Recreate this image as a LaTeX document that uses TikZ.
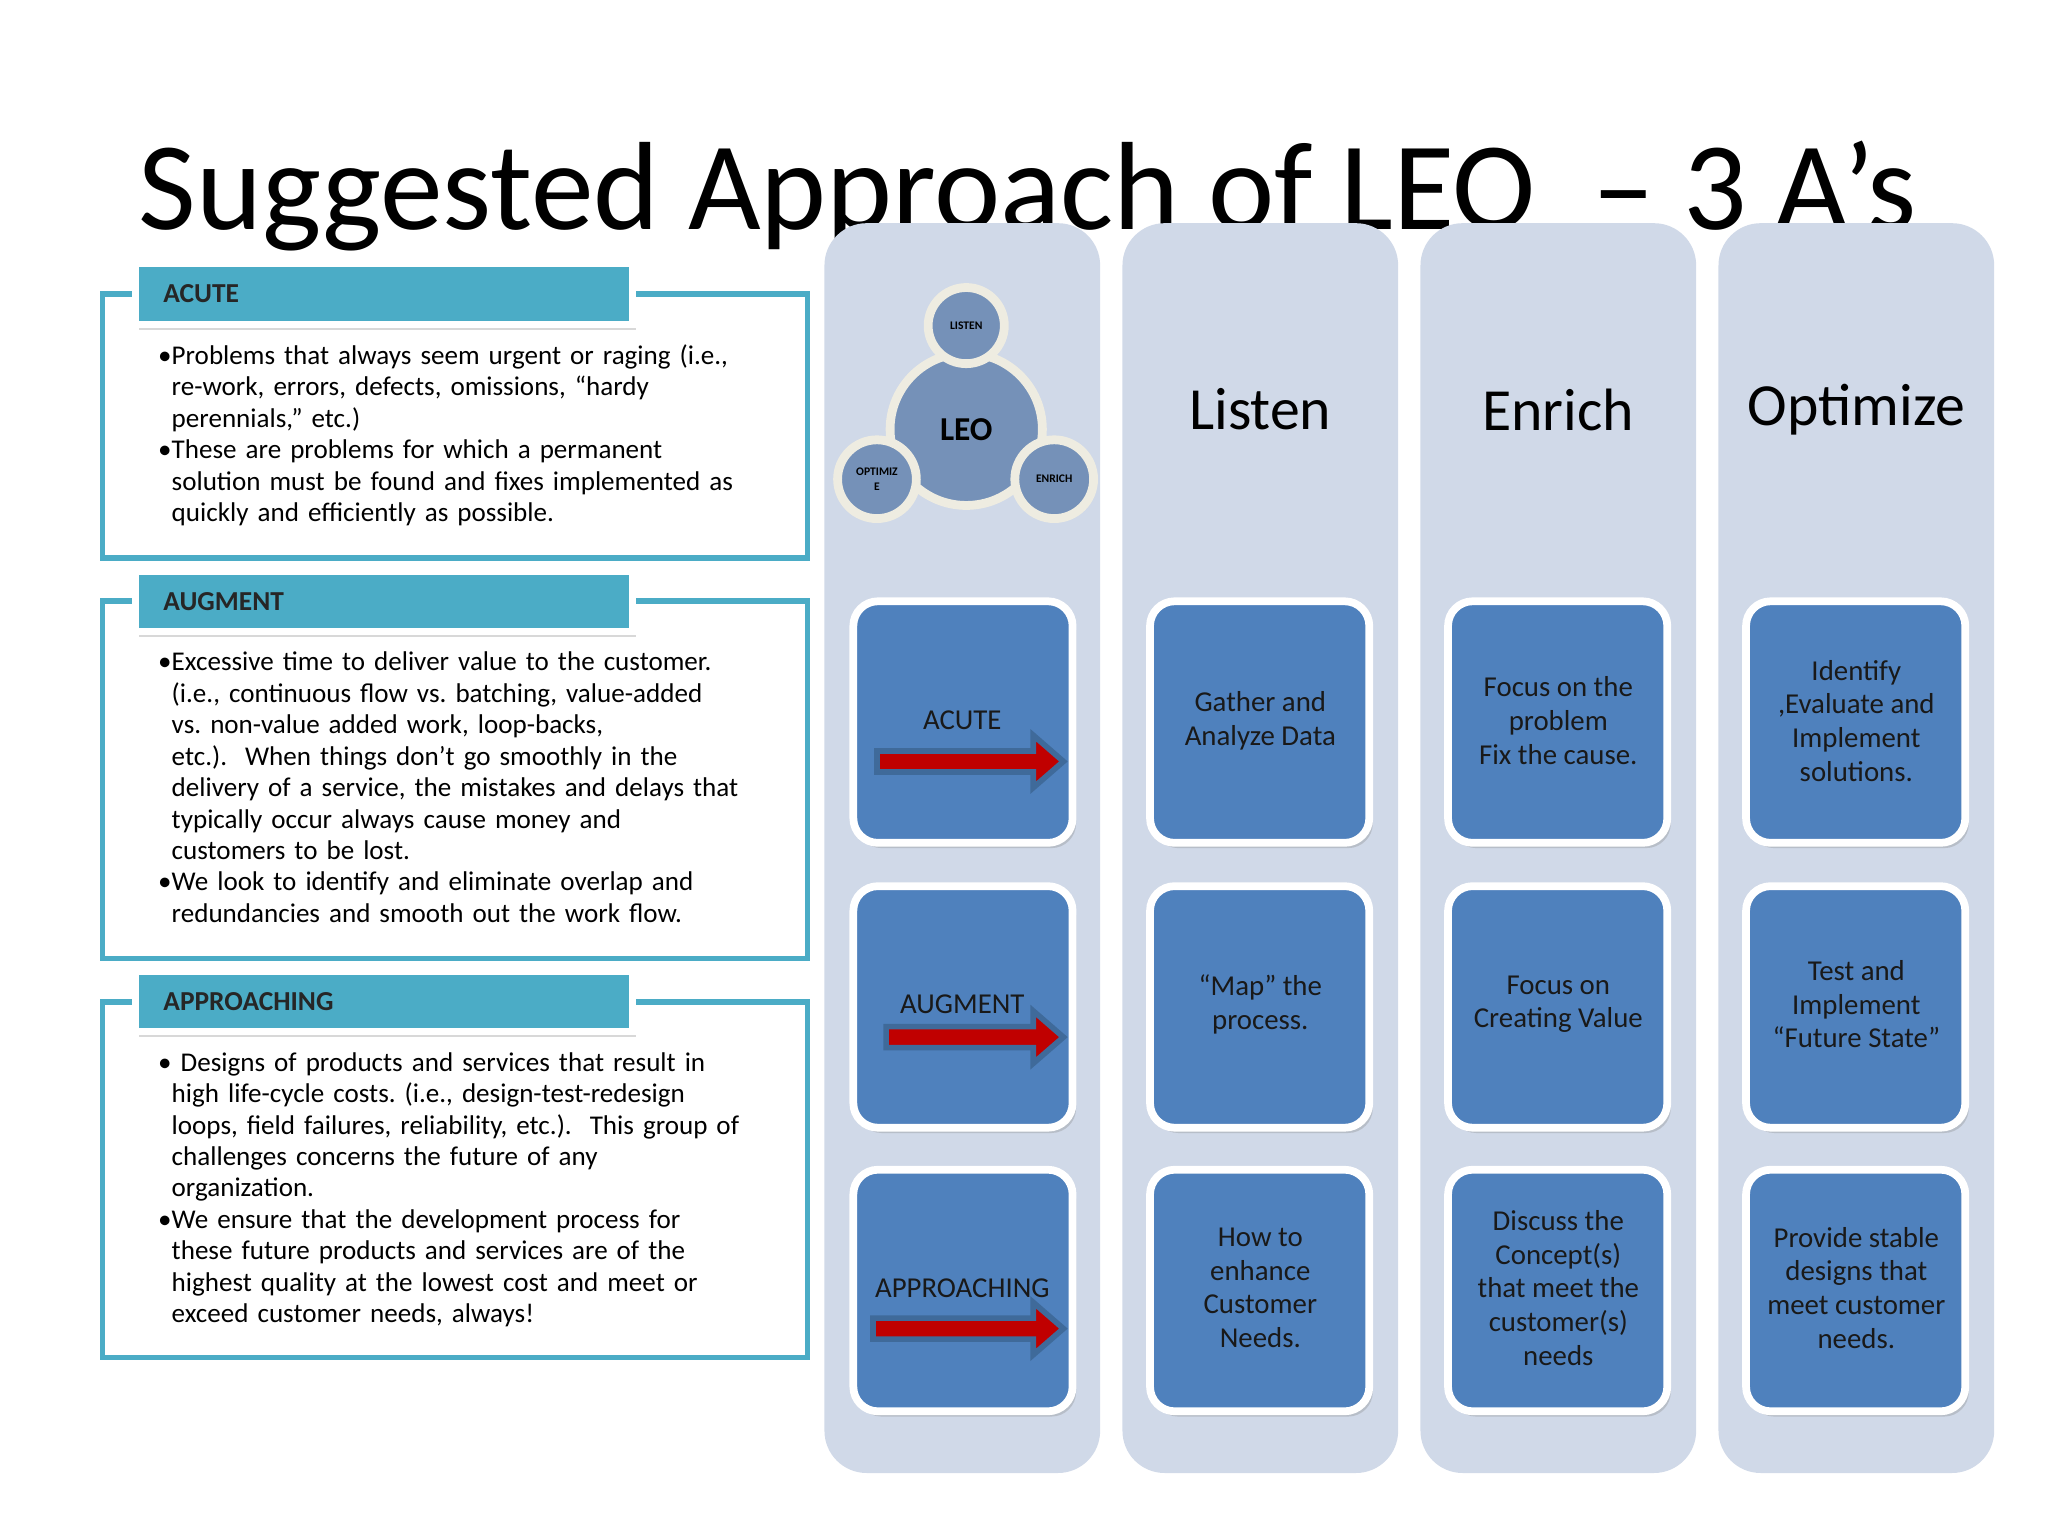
\documentclass[tikz,border=0pt]{standalone}
\usepackage{fontspec}
\setmainfont{Carlito}
\usetikzlibrary{shadows}
\definecolor{colbg}{HTML}{D0D9E8}
\definecolor{boxblue}{HTML}{4F81BD}
\definecolor{teal}{HTML}{4BACC6}
\definecolor{cream}{HTML}{EEECE1}
\definecolor{circ}{HTML}{7591B8}
\definecolor{arrowedge}{HTML}{3F6A9A}
\definecolor{arrowred}{HTML}{C00000}
\newlength{\bulw}
\newcommand{\bitem}[1]{\settowidth{\bulw}{•}\hangindent=\bulw\hangafter=1 #1\par}
\tikzset{
  x=0.013128cm, y=-0.013128cm,
  column/.style={fill=colbg, rounded corners=12pt, draw=none},
  bluebox/.style={fill=boxblue, draw=white, line width=2.2pt, rounded corners=7pt, drop shadow={shadow xshift=1pt, shadow yshift=-1.5pt, opacity=0.3}},
  boxtext/.style={align=center, font=\fontsize{8.2}{9.6}\selectfont, text=black!90},
  header/.style={font=\fontsize{17}{20}\selectfont},
  panel/.style={draw=teal, line width=1.6pt, fill=white},
  tab/.style={fill=teal, draw=white, line width=2pt, drop shadow={shadow xshift=1pt, shadow yshift=-1.5pt, opacity=0.3}},
  tabtext/.style={anchor=west, font=\bfseries\fontsize{7.8}{9}\selectfont, text=black!85},
  bodytext/.style={anchor=north west, align=left, text width=6.6cm, font=\fontsize{7.7}{8.95}\selectfont, inner sep=0pt},
  ring/.style={fill=circ, draw=cream, line width=2.5pt},
  redarrow/.style={fill=arrowred, draw=arrowedge, line width=1.6pt, line join=miter},
}
\begin{document}
\begin{tikzpicture}
\useasboundingbox (0,0) rectangle (1560,1170);
\fill[white] (0,0) rectangle (1560,1170);
% title
\node[anchor=base west, inner sep=0pt, font=\fontsize{35.7}{38}\selectfont] (title) at (105,175) {Suggested Approach of LEO\ \ – 3 A’s};
% columns
\draw[column] (628,170) rectangle (838,1122);
\draw[column] (855,170) rectangle (1065,1122);
\draw[column] (1082,170) rectangle (1292,1122);
\draw[column] (1309,170) rectangle (1519,1122);
\node[header] (hL) at (960,312) {Listen};
\node[header] (hE) at (1187,312) {Enrich};
\node[header] (hO) at (1414,312) {Optimize};
% LEO circles
\draw[ring] (736,327) circle (58);
\draw[ring] (736,248) circle (29);
\draw[ring] (668,365) circle (30);
\draw[ring] (803,365) circle (30);
\node[font=\bfseries\fontsize{9.5}{10}\selectfont] (leo) at (736,327) {LEO};
\node[font=\bfseries\fontsize{3.3}{4}\selectfont] (cl) at (736,248) {LISTEN};
\node[font=\bfseries\fontsize{3.3}{4}\selectfont, align=center] (co) at (668,365) {OPTIMIZ\\E};
\node[font=\bfseries\fontsize{3.3}{4}\selectfont] (ce) at (803,365) {ENRICH};
% boxes
\foreach \x in {647,873,1100,1327}{
  \foreach \y in {455,672,888}{
    \draw[bluebox] (\x+3,\y+3) rectangle (\x+170,\y+187);
  }
}
\node[boxtext] (a1) at (733,549) {ACUTE};
\node[boxtext] (a2) at (733,765) {AUGMENT};
\node[boxtext] (a3) at (733,981) {APPROACHING};
\draw[redarrow] (668,572) -- (787,572) -- (787,560) -- (810,580) -- (787,600) -- (787,588) -- (668,588) -- cycle;
\draw[redarrow] (675,782) -- (787,782) -- (787,770) -- (810,790) -- (787,810) -- (787,798) -- (675,798) -- cycle;
\draw[redarrow] (665,1004) -- (787,1004) -- (787,992) -- (810,1012) -- (787,1032) -- (787,1020) -- (665,1020) -- cycle;

\node[boxtext] (g1) at (960,549) {Gather and\\Analyze Data};
\node[boxtext] (g2) at (960,765) {“Map” the\\process.};
\node[boxtext] (g3) at (960,981) {How to\\enhance\\Customer\\Needs.};
\node[boxtext] (e1) at (1187,549) {Focus on the\\problem\\Fix the cause.};
\node[boxtext] (e2) at (1187,765) {Focus on\\Creating Value};
\node[boxtext] (e3) at (1187,981) {Discuss the\\Concept(s)\\that meet the\\customer(s)\\needs};
\node[boxtext] (o1) at (1414,549) {Identify\\,Evaluate and\\Implement\\solutions.};
\node[boxtext] (o2) at (1414,765) {Test and\\Implement\\“Future State”};
\node[boxtext] (o3) at (1414,981) {Provide stable\\designs that\\meet customer\\needs.};
% left panels
\draw[panel] (78,224) rectangle (615,425);
\draw[panel] (78,458) rectangle (615,730);
\draw[panel] (78,763) rectangle (615,1034);
\draw[tab] (103,201) rectangle (482,247);
\draw[tab] (103,435) rectangle (482,481);
\draw[tab] (103,740) rectangle (482,786);
\node[tabtext] (t1) at (115,224) {ACUTE};
\node[tabtext] (t2) at (115,458) {AUGMENT};
\node[tabtext] (t3) at (115,763) {APPROACHING};
\node[bodytext] (b1) at (120,262) {\raggedright\frenchspacing
\bitem{•Problems that always seem urgent or raging (i.e.,\newline re-work, errors, defects, omissions, “hardy\newline perennials,” etc.)}
\bitem{•These are problems for which a permanent\newline solution must be found and fixes implemented as\newline quickly and efficiently as possible.}};
\node[bodytext] (b2) at (120,496) {\raggedright\frenchspacing
\bitem{•Excessive time to deliver value to the customer.\newline (i.e., continuous flow vs. batching, value-added\newline vs. non-value added work, loop-backs,\newline etc.).\ \ When things don’t go smoothly in the\newline delivery of a service, the mistakes and delays that\newline typically occur always cause money and\newline customers to be lost.}
\bitem{•We look to identify and eliminate overlap and\newline redundancies and smooth out the work flow.}};
\node[bodytext] (b3) at (120,801) {\raggedright\frenchspacing
\bitem{• Designs of products and services that result in\newline high life-cycle costs. (i.e., design-test-redesign\newline loops, field failures, reliability, etc.).\ \ This group of\newline challenges concerns the future of any\newline organization.}
\bitem{•We ensure that the development process for\newline these future products and services are of the\newline highest quality at the lowest cost and meet or\newline exceed customer needs, always!}};
\end{tikzpicture}
\end{document}
